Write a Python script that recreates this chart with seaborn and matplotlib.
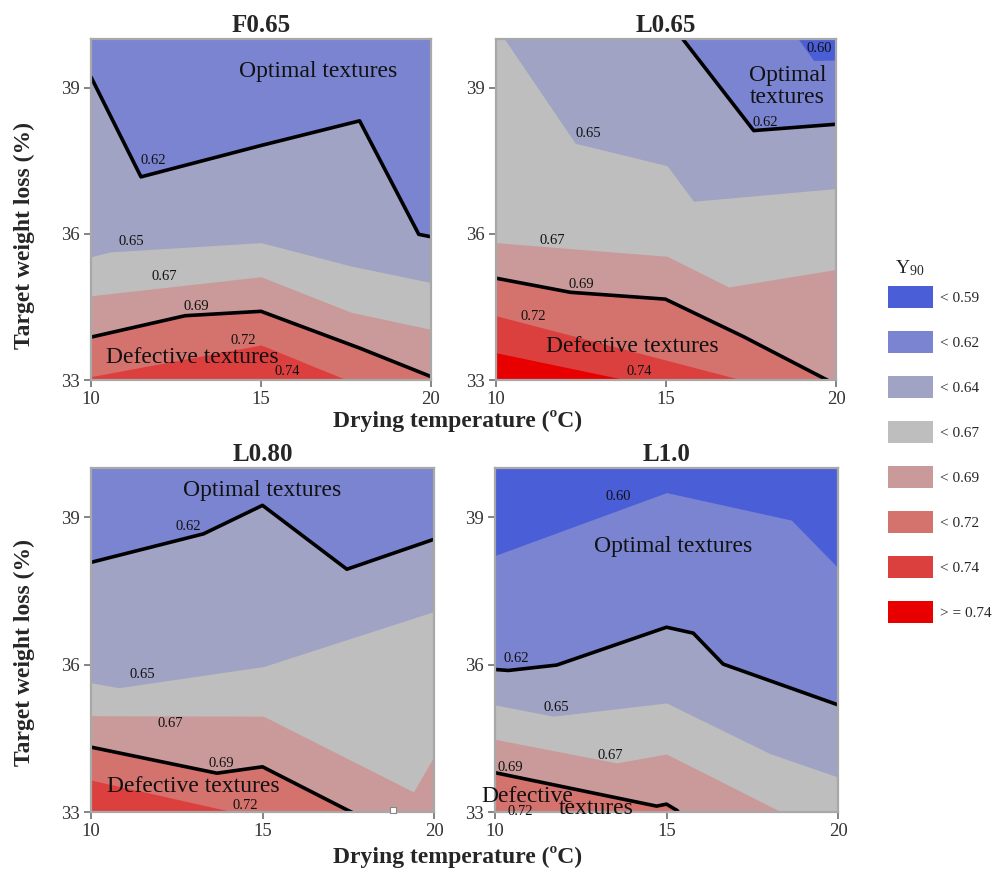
import numpy as np
import matplotlib
matplotlib.use("Agg")
import matplotlib.pyplot as plt
from matplotlib.patches import Patch
import seaborn as sns

# contour levels of Y90 and band colours (band i lies between LEVELS[i-1] and LEVELS[i])
LEVELS = [0.60, 0.62, 0.65, 0.67, 0.69, 0.72, 0.74]
BAND_COLORS = ['#4A5ED8', '#7A84D0', '#A0A3C3', '#BEBEBE',
               '#CA9A9A', '#D4726E', '#DC403E', '#E80000']
LEGEND_LABELS = ['< 0.59', '< 0.62', '< 0.64', '< 0.67',
                 '< 0.69', '< 0.72', '< 0.74', '> = 0.74']
LINE_LEVELS = [0.62, 0.69]   # contours drawn as black lines

# contour lines: level -> (drying temperature, target weight loss)
# a contour lying above the plotted window is given at 40
F065 = {
    0.60: ([10, 20], [40.0, 40.0]),
    0.62: ([10, 11.47, 14.98, 17.90, 19.64, 20], [39.22, 37.17, 37.81, 38.32, 35.99, 35.94]),
    0.65: ([10, 10.57, 15, 17.65, 20], [35.53, 35.63, 35.82, 35.34, 35.0]),
    0.67: ([10, 15, 17.65, 20], [34.73, 35.12, 34.39, 34.04]),
    0.69: ([10, 12.77, 15, 17.92, 20], [33.88, 34.32, 34.41, 33.65, 33.07]),
    0.72: ([10, 15, 17.53, 20], [33.07, 33.72, 33.0, 32.0]),
}
L065 = {
    0.60: ([18.5, 18.87, 19.34, 20], [40.4, 40.02, 39.56, 39.57]),
    0.62: ([15.3, 15.47, 17.58, 20], [40.17, 40.02, 38.12, 38.25]),
    0.65: ([10, 10.23, 12.33, 15.03, 15.81, 20], [40.3, 40.02, 37.86, 37.40, 36.67, 36.93]),
    0.67: ([10, 15.03, 16.84, 20], [35.82, 35.54, 34.91, 35.27]),
    0.69: ([10, 12.19, 14.98, 17.28, 19.74, 20], [35.09, 34.80, 34.66, 33.89, 33.0, 32.86]),
    0.72: ([10, 17.24, 20], [34.32, 33.0, 32.5]),
    0.74: ([10, 13.85, 15], [33.56, 33.0, 32.7]),
}
L080 = {
    0.60: ([10, 20], [40.0, 40.0]),
    0.62: ([10, 13.28, 15.0, 17.46, 20], [38.08, 38.66, 39.24, 37.94, 38.55]),
    0.65: ([10, 10.81, 15.03, 20], [35.63, 35.53, 35.96, 37.08]),
    0.67: ([10, 15.03, 19.40, 20], [34.96, 34.95, 33.41, 34.13]),
    0.69: ([10, 13.67, 15.0, 17.50, 20], [34.32, 33.79, 33.92, 33.03, 32.2]),
    0.72: ([10, 14.16, 15], [33.65, 33.0, 32.8]),
}
L10 = {
    0.60: ([10, 15.0, 18.64, 20], [38.22, 39.5, 38.94, 37.97]),
    0.62: ([10, 10.39, 11.80, 15.0, 15.78, 16.65, 20], [35.90, 35.88, 35.99, 36.76, 36.64, 36.01, 35.18]),
    0.65: ([10, 11.70, 15.0, 18.01, 20], [35.18, 34.95, 35.22, 34.19, 33.71]),
    0.67: ([10, 13.54, 15.0, 18.35, 20], [34.48, 34.0, 34.18, 33.0, 32.3]),
    0.69: ([10, 14.71, 15.0, 15.31, 15.5], [33.80, 33.12, 33.16, 33.03, 32.85]),
    0.72: ([10, 10.3], [33.04, 32.9]),
}
L080_marker = ([18.8], [33.05])

# contour label positions: (temperature, weight loss, text)
F065_labels = [(11.82, 37.5, '0.62'), (11.18, 35.85, '0.65'), (12.14, 35.13, '0.67'),
               (13.1, 34.5, '0.69'), (14.49, 33.82, '0.72'), (15.78, 33.17, '0.74')]
L065_labels = [(19.52, 39.8, '0.60'), (17.92, 38.29, '0.62'), (12.71, 38.05, '0.65'),
               (11.65, 35.87, '0.67'), (12.5, 34.96, '0.69'), (11.11, 34.30, '0.72'),
               (14.2, 33.17, '0.74')]
L080_labels = [(12.83, 38.8, '0.62'), (11.49, 35.79, '0.65'), (12.31, 34.8, '0.67'),
               (13.8, 33.99, '0.69'), (14.5, 33.14, '0.72')]
L10_labels = [(13.59, 39.41, '0.60'), (10.61, 36.12, '0.62'), (11.8, 35.13, '0.65'),
              (13.35, 34.14, '0.67'), (10.44, 33.9, '0.69'), (10.73, 33.01, '0.72')]

# region annotations: (temperature, weight loss, text)
F065_notes = [(16.67, 39.33, 'Optimal textures'), (12.97, 33.47, 'Defective textures')]
L065_notes = [(18.58, 39.03, 'Optimal\ntextures'), (14.0, 33.69, 'Defective textures')]
L080_notes = [(14.98, 39.54, 'Optimal textures'), (12.99, 33.51, 'Defective textures')]
L10_notes = [(15.19, 38.41, 'Optimal textures'), (10.94, 33.32, 'Defective'), (12.96, 33.08, 'textures')]

X_TICKS = [10, 15, 20]
Y_TICKS = [33, 36, 39]

sns.set_theme(style="white")
plt.rcParams['font.family'] = ['Liberation Serif', 'DejaVu Serif']
plt.rcParams['mathtext.default'] = 'regular'

fig = plt.figure(figsize=(9.93, 8.73), dpi=100)
W, H = 993, 873


def add_ax(left, top, right, bottom):
    return fig.add_axes([left / W, 1 - bottom / H, (right - left) / W, (bottom - top) / H])


def draw_panel(ax, contours, labels, notes, title):
    xg = np.linspace(10, 20, 801)
    ax.set_facecolor(BAND_COLORS[0])
    for lev in LEVELS:
        if lev not in contours:
            continue
        xs, ys = contours[lev]
        yg = np.clip(np.interp(xg, xs, ys), 33, 40)
        ax.fill_between(xg, 33, yg, color=BAND_COLORS[LEVELS.index(lev) + 1], lw=0)
    for lev in LINE_LEVELS:
        if lev in contours:
            xs, ys = contours[lev]
            sns.lineplot(x=xs, y=ys, sort=False, estimator=None, color='black',
                         lw=2.6, ax=ax)
    for x, y, t in labels:
        ax.text(x, y, t, fontsize=10.5, ha='center', va='center', color='#111111')
    for x, y, t in notes:
        ax.text(x, y, t, fontsize=17, ha='center', va='center', color='#111111',
                linespacing=1.05, clip_on=False)
    ax.set_xlim(10, 20)
    ax.set_ylim(33, 40)
    ax.set_xticks(X_TICKS)
    ax.set_yticks(Y_TICKS)
    ax.set_xlabel('')
    ax.set_ylabel('')
    ax.tick_params(axis='both', which='major', direction='out', length=5, width=1.2,
                   color='#707070', labelsize=13.5, labelcolor='#333333',
                   bottom=True, left=True, pad=3)
    for s in ax.spines.values():
        s.set_color('#A8A8A8')
        s.set_linewidth(1.6)
    ax.set_title(title, fontsize=18, fontweight='bold', pad=5)


ax1 = add_ax(91, 39, 431, 380)
ax2 = add_ax(496, 39, 836, 380)
ax3 = add_ax(91, 468, 434, 812)
ax4 = add_ax(495, 468, 838, 812)

draw_panel(ax1, F065, F065_labels, F065_notes, 'F0.65')
draw_panel(ax2, L065, L065_labels, L065_notes, 'L0.65')
draw_panel(ax3, L080, L080_labels, L080_notes, 'L0.80')
draw_panel(ax4, L10, L10_labels, L10_notes, 'L1.0')

ax3.scatter(L080_marker[0], L080_marker[1], marker='s', s=14, facecolor='white',
            edgecolor='#888888', linewidth=0.8, zorder=5, clip_on=False)

for yc in (236, 653):
    fig.text(24 / W, 1 - yc / H, 'Target weight loss (%)', rotation=90, fontsize=17,
             fontweight='bold', ha='center', va='center')
for yc in (421, 857):
    fig.text(458 / W, 1 - yc / H, 'Drying temperature (ºC)', fontsize=17,
             fontweight='bold', ha='center', va='center')

# legend
fig.text(910 / W, 1 - 268 / H, r'Y$_{\mathregular{90}}$', fontsize=14,
         ha='center', va='center')
handles = [Patch(facecolor=c, edgecolor='none') for c in BAND_COLORS]
fig.legend(handles, LEGEND_LABELS, loc='upper left',
           bbox_to_anchor=(882 / W, 1 - 280 / H), frameon=False, fontsize=11,
           handlelength=2.95, handleheight=1.785, handletextpad=0.45,
           labelspacing=1.54, borderaxespad=0)

fig.savefig('out.png', dpi=100)
